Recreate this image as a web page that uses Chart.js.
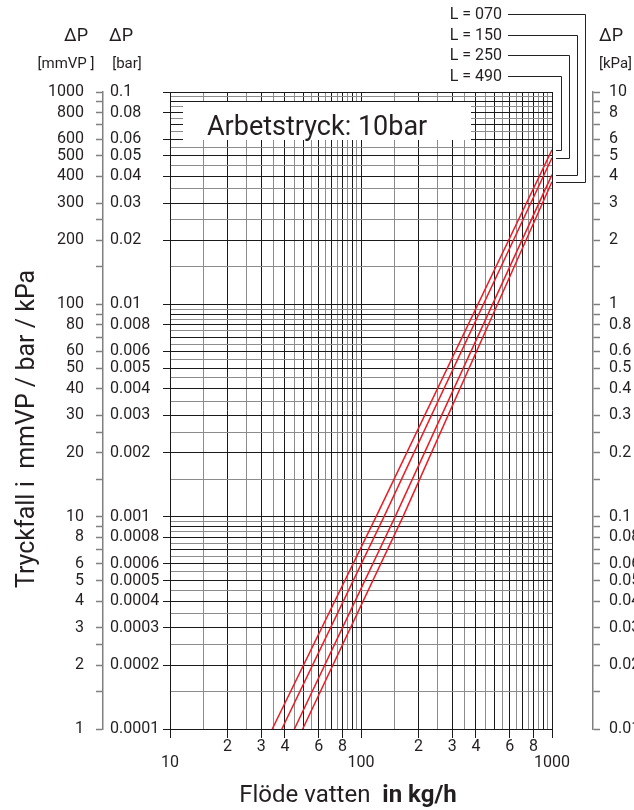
<!DOCTYPE html>
<html>
<head>
<meta charset="utf-8">
<script src="https://cdn.jsdelivr.net/npm/chart.js@4.4.0/dist/chart.umd.min.js"></script>
<style>
  html, body { margin: 0; padding: 0; background: #fff; }
  canvas { display: block; }
</style>
</head>
<body>
<canvas id="myChart" width="634" height="810"></canvas>
<script>
// Flow (kg/h) vs pressure drop (mmVP): bottom edge, at 10 mmVP, right edge
const flowL070 = [49.5, 166, 1000];
const dropL070 = [1, 10, 378];
const flowL150 = [44.8, 151, 1000];
const dropL150 = [1, 10, 408];
const flowL250 = [38.5, 132, 1000];
const dropL250 = [1, 10, 490];
const flowL490 = [34.3, 120, 1000];
const dropL490 = [1, 10, 534];

const seriesNames = ['L = 070', 'L = 150', 'L = 250', 'L = 490'];

// steps inside one decade
const gridSteps = [1, 1.5, 2, 2.5, 3, 3.5, 4, 4.5, 5, 5.5, 6, 6.5, 7, 7.5, 8, 8.5, 9, 9.5];
const sideSteps = [1, 1.5, 2, 2.5, 3, 4, 5, 6, 7, 8, 9];
const yLabelSteps = [1, 2, 3, 4, 5, 6, 8];
const xLabelSteps = [1, 2, 3, 4, 6, 8];
const xDecades = [10, 100, 1000];
const yDecades = [1, 10, 100, 1000];

const textColor = '#231f20';
const FONT = 'Roboto';

function decadeTicks(decades, steps) {
  const out = [];
  decades.slice(0, -1).forEach(d => steps.forEach(s => out.push(s * d)));
  out.push(decades[decades.length - 1]);
  return out;
}
function mantissa(v) {
  const d = Math.pow(10, Math.floor(Math.log10(v) + 1e-9));
  return Math.round(v / d * 10) / 10;
}
function isDecade(v) { return mantissa(v) === 1; }
function fmt(x) { return String(parseFloat(x.toPrecision(6))); }
function gridColor(v) { return Number.isInteger(mantissa(v)) ? '#1a1a1a' : '#8c8c8c'; }

const xTicks = decadeTicks(xDecades, gridSteps);
const yTicks = decadeTicks(yDecades, gridSteps);
const sideTicks = decadeTicks(yDecades, sideSteps);

function toPoints(fx, fy) { return fx.map((f, i) => ({ x: f, y: fy[i] })); }

const datasets = [
  [flowL070, dropL070], [flowL150, dropL150], [flowL250, dropL250], [flowL490, dropL490]
].map((s, i) => ({
  label: seriesNames[i],
  data: toPoints(s[0], s[1]),
  showLine: true,
  borderColor: '#ed1c24',
  borderWidth: 1.5,
  pointRadius: 0,
  xAxisID: 'x',
  yAxisID: 'y'
}));

// legend labels tied to the end of each curve
const legendRows = [14, 35, 55, 76];
const legendBends = [585, 577, 569, 561];

const extrasPlugin = {
  id: 'extras',
  afterDraw(chart) {
    const ctx = chart.ctx;
    const xs = chart.scales.x, ys = chart.scales.y;
    ctx.save();

    // working pressure box
    ctx.fillStyle = '#fff';
    ctx.fillRect(183, 102, 288, 38);
    ctx.fillStyle = textColor;
    ctx.font = '27px ' + FONT;
    ctx.textAlign = 'left';
    ctx.textBaseline = 'alphabetic';
    ctx.fillText('Arbetstryck: 10bar', 207, 135);

    // connectors from curve ends to labels
    ctx.strokeStyle = '#222';
    ctx.lineWidth = 1;
    chart.data.datasets.forEach((ds, i) => {
      const last = ds.data[ds.data.length - 1];
      const px = Math.round(xs.getPixelForValue(last.x)) + 4;
      const py = Math.round(ys.getPixelForValue(last.y)) + 0.5;
      const bx = legendBends[i] + 0.5;
      const ly = legendRows[i] + 0.5;
      ctx.beginPath();
      ctx.moveTo(px, py);
      ctx.lineTo(bx, py);
      ctx.lineTo(bx, ly);
      ctx.lineTo(508, ly);
      ctx.stroke();
      ctx.font = '16px ' + FONT;
      ctx.textAlign = 'right';
      ctx.textBaseline = 'middle';
      ctx.fillText(ds.label, 502, legendRows[i] + 1);
    });

    // axis headers
    ctx.textBaseline = 'middle';
    ctx.textAlign = 'center';
    ctx.font = '18px ' + FONT;
    ctx.fillText('\u0394P', 76, 36);
    ctx.fillText('\u0394P', 121, 36);
    ctx.textAlign = 'left';
    ctx.fillText('\u0394P', 599, 36);
    ctx.font = '15px ' + FONT;
    ctx.textAlign = 'center';
    ctx.fillText('[mmVP ]', 66, 64);
    ctx.fillText('[bar]', 127, 64);
    ctx.textAlign = 'left';
    ctx.fillText('[kPa]', 599, 64);

    // y title
    ctx.save();
    ctx.translate(28, 429);
    ctx.rotate(-Math.PI / 2);
    ctx.textAlign = 'center';
    ctx.font = '25px ' + FONT;
    ctx.fillText('Tryckfall i  mmVP / bar / kPa', 0, 0);
    ctx.restore();

    // x title, regular part then bold part, centred as a whole
    ctx.textBaseline = 'alphabetic';
    ctx.textAlign = 'left';
    const part1 = 'Flöde vatten  ';
    const part2 = 'in kg/h';
    ctx.font = '24px ' + FONT;
    const w1 = ctx.measureText(part1).width;
    ctx.font = 'bold 24px ' + FONT;
    const w2 = ctx.measureText(part2).width;
    const x0 = 348 - (w1 + w2) / 2;
    ctx.font = '24px ' + FONT;
    ctx.fillText(part1, x0, 802);
    ctx.font = 'bold 24px ' + FONT;
    ctx.fillText(part2, x0 + w1, 802);

    ctx.restore();
  }
};

const tickFont = { family: FONT, size: 16 };
const clear = 'rgba(0,0,0,0)';

const config = {
  type: 'scatter',
  data: { datasets: datasets },
  options: {
    responsive: false,
    animation: false,
    layout: { padding: { top: 92, bottom: 41, left: 0, right: 0 } },
    plugins: {
      legend: { display: false },
      tooltip: { enabled: false }
    },
    scales: {
      x: {
        type: 'logarithmic',
        position: 'bottom',
        min: 10,
        max: 1000,
        afterBuildTicks: s => { s.ticks = xTicks.map(v => ({ value: v })); },
        afterFit: s => { s.height = 40; },
        grid: {
          color: c => gridColor(c.tick.value),
          lineWidth: 1,
          tickLength: 9,
          tickColor: c => xLabelSteps.includes(mantissa(c.tick.value)) ? '#1a1a1a' : clear
        },
        border: { color: '#1a1a1a' },
        ticks: {
          autoSkip: false,
          maxRotation: 0,
          padding: 1,
          color: textColor,
          font: { family: FONT, size: 16, lineHeight: 1 },
          callback: v => {
            if (isDecade(v)) return ['', fmt(v)];
            const m = mantissa(v);
            return xLabelSteps.includes(m) ? String(m) : '';
          }
        }
      },
      y: {
        type: 'logarithmic',
        position: 'left',
        weight: 0,
        min: 1,
        max: 1000,
        afterBuildTicks: s => { s.ticks = yTicks.map(v => ({ value: v })); },
        afterFit: s => { s.width = 60; },
        grid: {
          color: c => gridColor(c.tick.value),
          lineWidth: 1,
          tickLength: 7,
          tickColor: c => yLabelSteps.includes(mantissa(c.tick.value)) ? '#1a1a1a' : clear
        },
        border: { color: '#1a1a1a' },
        ticks: {
          autoSkip: false,
          crossAlign: 'far',
          color: textColor,
          font: tickFont,
          callback: v => yLabelSteps.includes(mantissa(v)) ? fmt(v / 10000) : ''
        }
      },
      gapL: {
        type: 'linear',
        position: 'left',
        weight: 1,
        grid: { display: false },
        border: { display: false },
        ticks: { display: false },
        afterFit: s => { s.width = 7; }
      },
      yMm: {
        type: 'logarithmic',
        position: 'left',
        weight: 2,
        min: 1,
        max: 1000,
        afterBuildTicks: s => { s.ticks = sideTicks.map(v => ({ value: v })); },
        afterFit: s => { s.width = 103; },
        grid: { drawOnChartArea: false, tickLength: 7, tickColor: '#808080', tickWidth: 1.5 },
        border: { color: '#808080', width: 1.5 },
        ticks: {
          autoSkip: false,
          padding: 12,
          color: textColor,
          font: tickFont,
          callback: v => yLabelSteps.includes(mantissa(v)) ? fmt(v) : ''
        }
      },
      gapR: {
        type: 'linear',
        position: 'right',
        weight: 0,
        grid: { display: false },
        border: { display: false },
        ticks: { display: false },
        afterFit: s => { s.width = 41; }
      },
      yKpa: {
        type: 'logarithmic',
        position: 'right',
        weight: 1,
        min: 1,
        max: 1000,
        afterBuildTicks: s => { s.ticks = sideTicks.map(v => ({ value: v })); },
        afterFit: s => { s.width = 41; },
        grid: { drawOnChartArea: false, tickLength: 7, tickColor: '#808080', tickWidth: 1.5 },
        border: { color: '#808080', width: 1.5 },
        ticks: {
          autoSkip: false,
          padding: 9,
          color: textColor,
          font: tickFont,
          callback: v => yLabelSteps.includes(mantissa(v)) ? fmt(v / 100) : ''
        }
      }
    }
  },
  plugins: [extrasPlugin]
};

const ctx = document.getElementById('myChart').getContext('2d');
new Chart(ctx, config);
</script>
</body>
</html>
